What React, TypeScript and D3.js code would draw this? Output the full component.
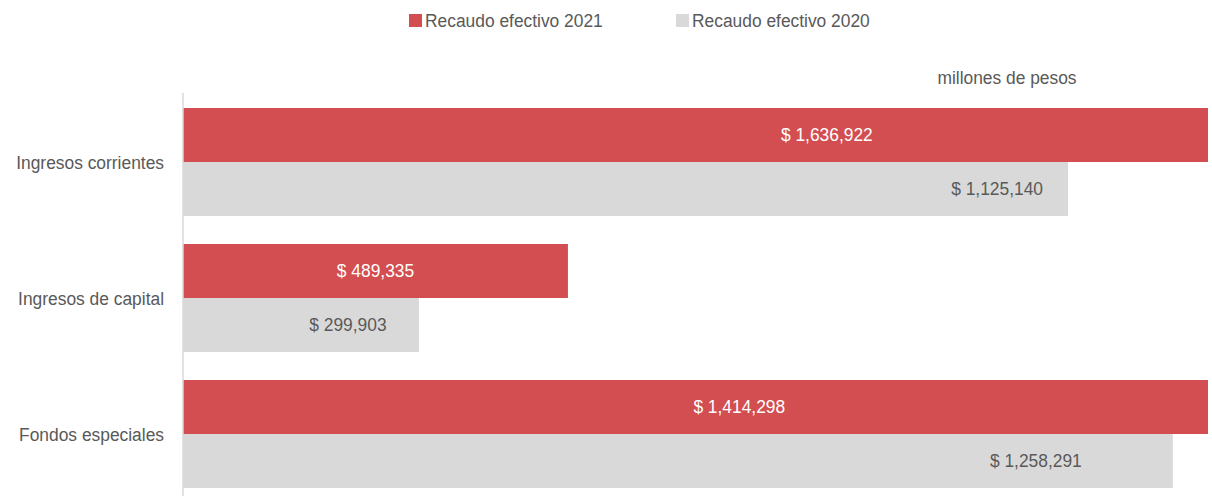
import React from "react";
import * as d3 from "d3";

const categories = ["Ingresos corrientes", "Ingresos de capital", "Fondos especiales"];
const values2021 = [1636922, 489335, 1414298];
const values2020 = [1125140, 299903, 1258291];
const seriesNames = ["Recaudo efectivo 2021", "Recaudo efectivo 2020"];
const axisMax = 1303000;
const unitNote = "millones de pesos";

const W = 1212;
const H = 496;
const RED = "#d34e50";
const GRAY = "#d9d9d9";
const TEXT = "#595959";
const FONT = "'Liberation Sans', Arial, sans-serif";
// px offsets of 2020 labels' centers from the bar end
const label2020Offset = [71, 71, 137];

const fmt = (v: number) => "$ " + d3.format(",")(v);

function NText(props: {
  x: number;
  y: number;
  anchor?: "start" | "middle" | "end";
  fill?: string;
  children: React.ReactNode;
}) {
  return (
    <text
      transform={`translate(${props.x},${props.y}) scale(0.915,1)`}
      textAnchor={props.anchor || "start"}
      dominantBaseline="central"
      fontSize={19}
      fill={props.fill || TEXT}
    >
      {props.children}
    </text>
  );
}

export default function App() {
  const x = d3.scaleLinear().domain([0, axisMax]).range([183, 1208]);
  const y = d3
    .scaleBand<string>()
    .domain(categories)
    .range([94, 502])
    .paddingInner(28 / 136)
    .paddingOuter(14 / 136);
  const sub = d3
    .scaleBand<string>()
    .domain(seriesNames)
    .range([0, y.bandwidth()]);

  return (
    <div style={{ position: "absolute", left: 0, top: 0 }}>
      <svg width={W} height={H} style={{ display: "block", fontFamily: FONT }}>
        <defs>
          <clipPath id="plot">
            <rect x={183} y={0} width={1208 - 183} height={H} />
          </clipPath>
        </defs>
        {/* legend */}
        <g>
          <rect x={409} y={14} width={13} height={13} fill={RED} />
          <NText x={425} y={20.5}>{seriesNames[0]}</NText>
          <rect x={676} y={14} width={13} height={13} fill={GRAY} />
          <NText x={692} y={20.5}>{seriesNames[1]}</NText>
        </g>
        <NText x={1007} y={78} anchor="middle">{unitNote}</NText>
        {/* bars */}
        <g clipPath="url(#plot)">
          {categories.map((c, i) => (
            <g key={c}>
              <rect
                x={x(0)}
                y={(y(c) as number) + (sub(seriesNames[0]) as number)}
                width={x(values2021[i]) - x(0)}
                height={sub.bandwidth()}
                fill={RED}
              />
              <rect
                x={x(0)}
                y={(y(c) as number) + (sub(seriesNames[1]) as number)}
                width={x(values2020[i]) - x(0)}
                height={sub.bandwidth()}
                fill={GRAY}
              />
            </g>
          ))}
        </g>
        {/* axis line */}
        <line x1={183} x2={183} y1={93} y2={H} stroke={GRAY} strokeWidth={1.5} />
        {/* labels */}
        {categories.map((c, i) => {
          const y0 = y(c) as number;
          const yr = y0 + (sub(seriesNames[0]) as number) + sub.bandwidth() / 2;
          const yg = y0 + (sub(seriesNames[1]) as number) + sub.bandwidth() / 2;
          return (
            <g key={c}>
              <NText x={164} y={y0 + y.bandwidth() / 2 + 1} anchor="end">{c}</NText>
              <NText x={(x(0) + x(values2021[i])) / 2} y={yr} anchor="middle" fill="#ffffff">
                {fmt(values2021[i])}
              </NText>
              <NText x={x(values2020[i]) - label2020Offset[i]} y={yg} anchor="middle">
                {fmt(values2020[i])}
              </NText>
            </g>
          );
        })}
      </svg>
    </div>
  );
}
